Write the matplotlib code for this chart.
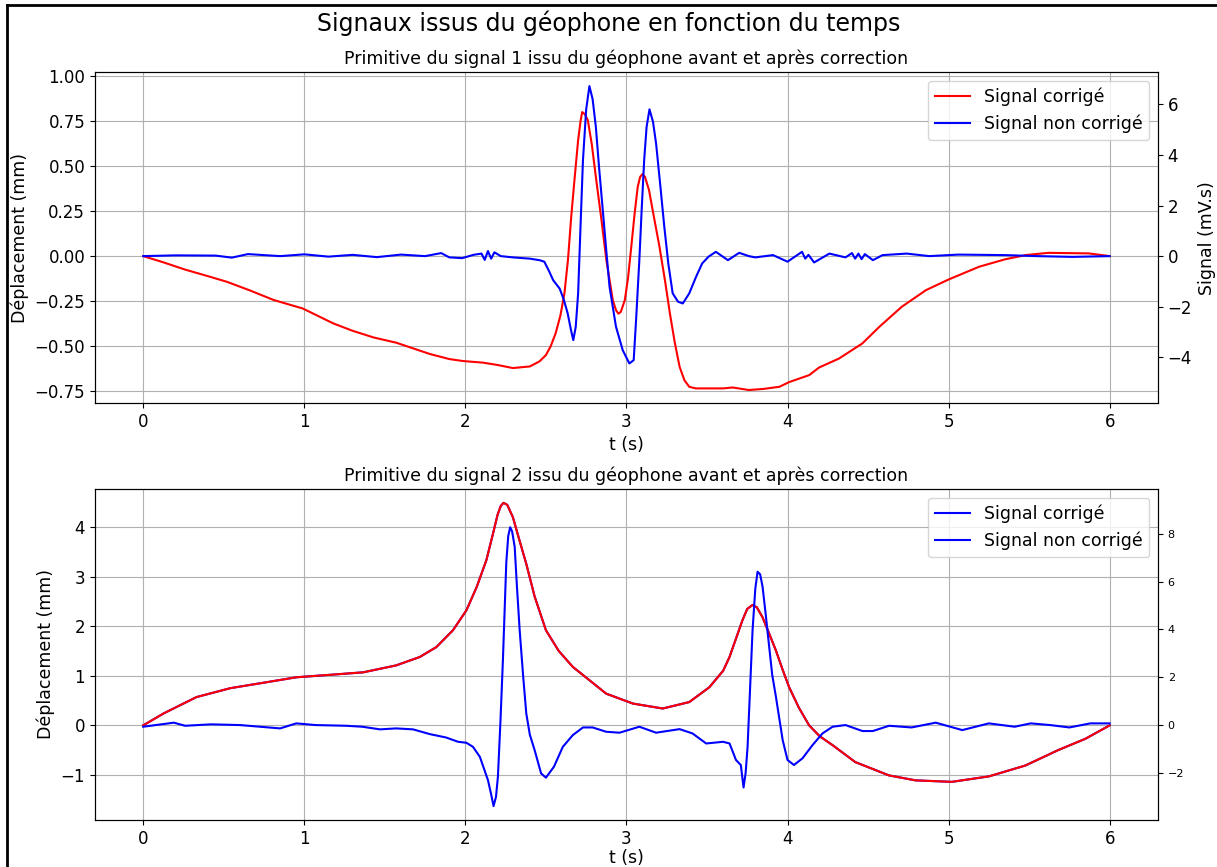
import matplotlib
matplotlib.use("Agg")
import matplotlib.pyplot as plt
from matplotlib.lines import Line2D

# --- Signal 1 : primitive corrigée (mm) ---
t1_corr = [0.0, 0.126, 0.26, 0.415, 0.52, 0.66, 0.81, 0.99, 1.18, 1.30, 1.43, 1.57,
           1.78, 1.90, 1.985, 2.11, 2.20, 2.295, 2.40, 2.46, 2.50, 2.53, 2.56, 2.59,
           2.615, 2.637, 2.657, 2.68, 2.70, 2.715, 2.725, 2.74, 2.76, 2.785, 2.81,
           2.845, 2.875, 2.915, 2.935, 2.95, 2.965, 2.99, 3.01, 3.03, 3.05, 3.07, 3.085,
           3.10, 3.115, 3.14, 3.17, 3.205, 3.24, 3.27, 3.30, 3.33, 3.36, 3.39, 3.43,
           3.47, 3.60, 3.66, 3.76, 3.85, 3.95, 4.01, 4.135, 4.196, 4.32, 4.465, 4.57,
           4.71, 4.86, 5.00, 5.19, 5.35, 5.48, 5.62, 5.87, 6.0]
y1_corr = [0.0, -0.035, -0.075, -0.115, -0.143, -0.19, -0.244, -0.291, -0.374, -0.415,
           -0.452, -0.481, -0.544, -0.572, -0.583, -0.592, -0.605, -0.622, -0.613,
           -0.585, -0.55, -0.50, -0.43, -0.33, -0.207, -0.02, 0.218, 0.45, 0.644, 0.75,
           0.80, 0.79, 0.756, 0.62, 0.44, 0.20, -0.02, -0.244, -0.30, -0.32, -0.31,
           -0.244, -0.12, 0.052, 0.23, 0.385, 0.44, 0.456, 0.44, 0.367, 0.22, 0.052,
           -0.14, -0.32, -0.48, -0.615, -0.69, -0.726, -0.735, -0.735, -0.735, -0.73,
           -0.744, -0.738, -0.726, -0.70, -0.661, -0.619, -0.569, -0.485, -0.393,
           -0.281, -0.189, -0.13, -0.059, -0.018, 0.006, 0.018, 0.015, 0.0]

# --- Signal 1 : primitive non corrigée (mV.s) ---
t1_raw = [0.0, 0.2, 0.45, 0.55, 0.65, 0.85, 1.0, 1.15, 1.3, 1.45, 1.6, 1.75, 1.85,
          1.90, 1.98, 2.05, 2.10, 2.12, 2.14, 2.16, 2.18, 2.22, 2.295, 2.40, 2.46,
          2.49, 2.52, 2.545, 2.585, 2.61, 2.635, 2.655, 2.67, 2.685, 2.70, 2.715, 2.73,
          2.75, 2.77, 2.79, 2.81, 2.83, 2.853, 2.875, 2.895, 2.935, 2.977, 3.018,
          3.045, 3.06, 3.08, 3.095, 3.11, 3.125, 3.143, 3.165, 3.184, 3.21, 3.235,
          3.26, 3.287, 3.32, 3.35, 3.39, 3.43, 3.47, 3.51, 3.555, 3.63, 3.70, 3.76,
          3.80, 3.91, 4.0, 4.09, 4.11, 4.13, 4.165, 4.26, 4.36, 4.40, 4.42, 4.44,
          4.46, 4.48, 4.53, 4.59, 4.74, 4.88, 5.06, 5.35, 5.55, 5.77, 6.0]
y1_raw = [0.0, 0.03, 0.02, -0.06, 0.08, 0.0, 0.07, -0.02, 0.05, -0.04, 0.06, 0.0, 0.12,
          -0.05, -0.08, 0.05, 0.1, -0.15, 0.2, -0.1, 0.15, 0.0, -0.05, -0.1, -0.16,
          -0.22, -0.6, -0.95, -1.28, -1.7, -2.26, -2.9, -3.32, -2.8, -1.47, 1.2, 3.79,
          5.8, 6.72, 6.2, 5.11, 3.5, 1.82, 0.2, -1.21, -2.79, -3.72, -4.24, -4.11,
          -2.5, -0.16, 1.9, 3.79, 5.1, 5.80, 5.3, 4.45, 2.8, 1.16, -0.3, -1.47, -1.8,
          -1.87, -1.47, -0.85, -0.29, -0.02, 0.17, -0.16, 0.13, 0.0, -0.05, 0.04,
          -0.22, 0.17, -0.1, 0.05, -0.25, 0.1, -0.05, 0.12, -0.1, 0.1, -0.12, 0.08,
          -0.16, 0.04, 0.1, 0.0, 0.06, 0.04, 0.0, -0.03, 0.0]

# --- Signal 2 : primitive corrigée (mm) ---
t2_corr = [0.0, 0.126, 0.33, 0.54, 0.746, 0.95, 1.16, 1.365, 1.57, 1.717, 1.82,
           1.923, 2.006, 2.07, 2.13, 2.17, 2.20, 2.22, 2.237, 2.26, 2.295, 2.33, 2.378,
           2.43, 2.50, 2.58, 2.667, 2.874, 3.04, 3.225, 3.39, 3.515, 3.60, 3.64, 3.68,
           3.72, 3.75, 3.783, 3.81, 3.845, 3.885, 3.928, 3.97, 4.01, 4.07, 4.134, 4.20,
           4.28, 4.42, 4.63, 4.795, 5.02, 5.25, 5.477, 5.68, 5.85, 6.0]
y2_corr = [0.0, 0.24, 0.57, 0.75, 0.86, 0.97, 1.02, 1.07, 1.21, 1.38, 1.58, 1.92,
           2.32, 2.79, 3.33, 3.85, 4.25, 4.43, 4.49, 4.45, 4.20, 3.80, 3.26, 2.60,
           1.92, 1.50, 1.18, 0.64, 0.44, 0.34, 0.47, 0.77, 1.10, 1.38, 1.75, 2.12, 2.35,
           2.43, 2.38, 2.18, 1.86, 1.51, 1.12, 0.77, 0.36, 0.0, -0.22, -0.40, -0.74,
           -1.01, -1.11, -1.14, -1.03, -0.81, -0.50, -0.27, 0.0]

# --- Signal 2 : primitive non corrigée (mV.s) ---
t2_raw = [0.0, 0.19, 0.26, 0.42, 0.6, 0.85, 0.95, 1.07, 1.26, 1.36, 1.47, 1.57, 1.675,
          1.78, 1.88, 1.955, 2.006, 2.047, 2.09, 2.14, 2.16, 2.175, 2.19, 2.202,
          2.218, 2.233, 2.254, 2.266, 2.278, 2.29, 2.306, 2.32, 2.337, 2.358, 2.378,
          2.40, 2.43, 2.47, 2.50, 2.55, 2.605, 2.667, 2.73, 2.79, 2.874, 2.957, 3.08,
          3.184, 3.33, 3.41, 3.495, 3.60, 3.64, 3.68, 3.71, 3.727, 3.74, 3.752, 3.768,
          3.783, 3.80, 3.814, 3.83, 3.845, 3.865, 3.886, 3.905, 3.928, 3.97, 4.0,
          4.04, 4.093, 4.155, 4.217, 4.28, 4.36, 4.465, 4.53, 4.63, 4.77, 4.92, 5.085,
          5.25, 5.41, 5.51, 5.63, 5.75, 5.88, 6.0]
y2_raw = [-0.07, 0.10, -0.03, 0.03, 0.0, -0.14, 0.07, 0.0, -0.03, -0.07, -0.18, -0.14,
          -0.18, -0.38, -0.52, -0.70, -0.74, -0.91, -1.33, -2.30, -2.9, -3.39, -3.0,
          -2.16, 0.2, 2.72, 6.80, 7.9, 8.27, 8.1, 7.46, 5.8, 3.97, 2.1, 0.49, -0.4,
          -1.05, -2.02, -2.20, -1.74, -0.91, -0.42, -0.10, -0.10, -0.28, -0.32, -0.07,
          -0.32, -0.17, -0.35, -0.77, -0.70, -0.77, -1.46, -1.67, -2.61, -2.0, -0.91,
          1.6, 3.97, 5.7, 6.41, 6.3, 5.79, 4.6, 3.28, 2.1, 1.18, -0.63, -1.46, -1.67,
          -1.39, -0.84, -0.35, -0.07, 0.0, -0.25, -0.25, -0.03, -0.10, 0.10, -0.21,
          0.07, -0.07, 0.07, 0.0, -0.10, 0.07, 0.07]

fig = plt.figure(figsize=(12.17, 8.67), dpi=100)
fig.suptitle("Signaux issus du géophone en fonction du temps", fontsize=17, y=0.988)

# cadre noir de la figure (gauche et haut)
fig.add_artist(Line2D([0.0058, 0.0058], [0.0, 0.9942], color="black", lw=2,
                      transform=fig.transFigure))
fig.add_artist(Line2D([0.0058, 1.0], [0.9942, 0.9942], color="black", lw=2,
                      transform=fig.transFigure))

ax1 = fig.add_axes([0.078, 0.535, 0.8735, 0.3818])
ax1.plot(t1_corr, y1_corr, color="red", lw=1.5)
ax1.set_ylim(-0.817, 1.022)
ax1.set_xlim(-0.3, 6.3)
ax1.set_title("Primitive du signal 1 issu du géophone avant et après correction", fontsize=12.5)
ax1.set_xlabel("t (s)", fontsize=12.5)
ax1.set_ylabel("Déplacement (mm)", fontsize=12.5)
ax1.tick_params(labelsize=12)
ax1.grid(True)
ax1b = ax1.twinx()
ax1b.plot(t1_raw, y1_raw, color="blue", lw=1.5)
ax1b.set_ylim(-5.81, 7.27)
ax1b.set_ylabel("Signal (mV.s)", fontsize=12.5)
ax1b.tick_params(labelsize=12)
ax1b.legend(handles=[Line2D([], [], color="red", label="Signal corrigé"),
                     Line2D([], [], color="blue", label="Signal non corrigé")],
            loc="upper right", fontsize=12.5)

ax2 = fig.add_axes([0.078, 0.0542, 0.8735, 0.3818])
ax2.plot(t2_corr, y2_corr, color="blue", lw=1.5, label="Signal corrigé")
ax2.plot(t2_corr, y2_corr, color="red", lw=1.5)
ax2.set_ylim(-1.91, 4.77)
ax2.set_xlim(-0.3, 6.3)
ax2.set_title("Primitive du signal 2 issu du géophone avant et après correction", fontsize=12.5)
ax2.set_xlabel("t (s)", fontsize=12.5, labelpad=1)
ax2.set_ylabel("Déplacement (mm)", fontsize=12.5)
ax2.tick_params(labelsize=12)
ax2.grid(True)
ax2b = ax2.twinx()
ax2b.plot(t2_raw, y2_raw, color="blue", lw=1.5)
ax2b.set_ylim(-3.97, 9.87)
ax2b.tick_params(labelsize=8)
ax2b.legend(handles=[Line2D([], [], color="blue", label="Signal corrigé"),
                     Line2D([], [], color="blue", label="Signal non corrigé")],
            loc="upper right", fontsize=12.5)

fig.savefig("out.png", dpi=100)
